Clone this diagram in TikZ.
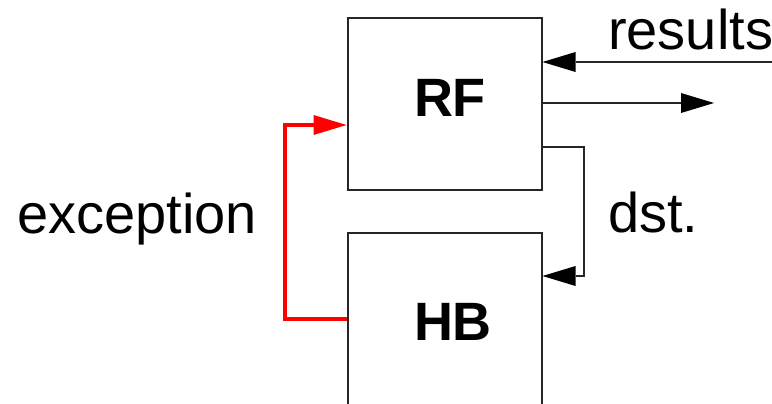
\documentclass[tikz,border=0pt]{standalone}
\usepackage{fontspec}
\setmainfont{Liberation Sans}
\usetikzlibrary{arrows.meta}
\begin{document}
\begin{tikzpicture}[x=1pt, y=-1pt]
% register file and history buffer
\def\unitw{194pt}
\def\unith{172pt}
\providecommand{\blkLineColor}{black!85}
\providecommand{\blkLineWidth}{2pt}
\providecommand{\excLineWidth}{4pt}
\tikzset{
  unitbox/.style={draw=\blkLineColor, line width=\blkLineWidth, minimum width=\unitw, minimum height=\unith, inner sep=0pt},
  unitname/.style={font=\fontsize{54}{60}\selectfont\bfseries, anchor=base, inner sep=0pt},
  sidetext/.style={font=\fontsize{56}{62}\selectfont, anchor=base west, inner sep=0pt},
  flow/.style={draw=\blkLineColor, line width=\blkLineWidth, -{Triangle[length=33pt, width=20pt, fill=black, line width=0pt]}},
  excflow/.style={draw=red, line width=\excLineWidth, line join=miter, -{Triangle[length=33pt, width=20pt, fill=red, line width=0pt]}}
}
\useasboundingbox (0,0) rectangle (772,404);
\clip (0,0) rectangle (772,404);
% Units
\node[unitbox] (rf) at (444.5,104) {};
\node[unitbox] (hb) at (444.5,319) {};
\node[unitname] (rfname) at (450,117) {RF};
\node[unitname] (hbname) at (453,340) {HB};
% Labels
\node[sidetext] (results) at (608,50) {results};
\node[sidetext] (dst) at (608,232) {dst.};
\node[sidetext] (exception) at (17,233) {exception};
% Result bus in and out
\coordinate (resin) at (772,62);
\coordinate (resout) at (714,103);
\draw[flow] (resin) -- (rf.east |- resin);
\draw[flow] (rf.east |- resout) -- (resout);
% Destination path into the history buffer
\coordinate (dsttop) at (584,147);
\coordinate (dstbot) at (584,276);
\draw[flow] (rf.east |- dsttop) -- (dsttop) -- (dstbot) -- (hb.east |- dstbot);
% Exception path back to the register file
\coordinate (excbot) at (285,319);
\coordinate (exctop) at (285,125);
\draw[excflow] (hb.west |- excbot) -- (excbot) -- (exctop) -- (rf.west |- exctop);
\end{tikzpicture}
\end{document}
